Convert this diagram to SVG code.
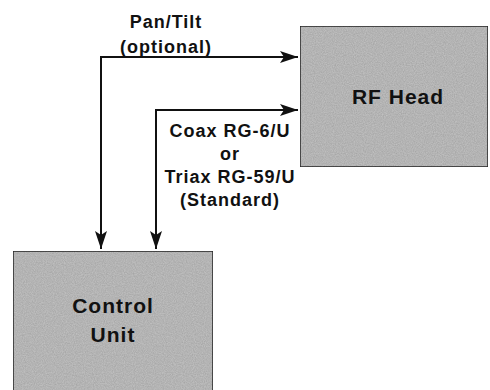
<svg xmlns="http://www.w3.org/2000/svg" width="490" height="390" viewBox="0 0 490 390">
  <style>
    .box { fill: #c4c4c4; stroke: #2a2a2a; stroke-width: 1.5; }
    .lbl { font-family: "Liberation Sans", Arial, sans-serif; font-weight: bold; fill: #111; text-anchor: middle; }
    .small { font-size: 18px; letter-spacing: 1px; }
    .big { font-size: 21px; letter-spacing: 1px; }
    .wire { fill: none; stroke: #111; stroke-width: 2; }
  </style>
  <defs>
    <filter id="grain" x="0" y="0" width="100%" height="100%">
      <feTurbulence type="fractalNoise" baseFrequency="0.9" numOctaves="2" seed="3" result="n"/>
      <feColorMatrix in="n" type="matrix" values="0 0 0 0 0  0 0 0 0 0  0 0 0 0 0  0 0 0 0.35 0" result="dark"/>
      <feComposite in="dark" in2="SourceGraphic" operator="in" result="d2"/>
      <feMerge><feMergeNode in="SourceGraphic"/><feMergeNode in="d2"/></feMerge>
    </filter>
    <marker id="arr" viewBox="0 0 18 12" refX="18" refY="6" markerWidth="18" markerHeight="12" markerUnits="userSpaceOnUse" orient="auto-start-reverse">
      <path d="M0,0 L18,6 L0,12 L4,6 Z" fill="#111"/>
    </marker>
  </defs>
  <g id="rf-head">
    <rect class="box" x="300" y="26" width="188" height="141" filter="url(#grain)"/>
    <text class="lbl big" x="398" y="104">RF Head</text>
  </g>
  <g id="control-unit">
    <rect class="box" x="13" y="251" width="200" height="145" filter="url(#grain)"/>
    <text class="lbl big" x="113" y="313">Control</text>
    <text class="lbl big" x="113" y="342">Unit</text>
  </g>
  <g id="connectors">
    <path class="wire" d="M298,57 L101,57 L101,249" marker-start="url(#arr)" marker-end="url(#arr)"/>
    <path class="wire" d="M298,110 L156,110 L156,249" marker-start="url(#arr)" marker-end="url(#arr)"/>
    <text class="lbl small" x="166" y="28">Pan/Tilt</text>
    <text class="lbl small" x="166" y="53">(optional)</text>
    <text class="lbl small" x="230" y="137">Coax RG-6/U</text>
    <text class="lbl small" x="230" y="160">or</text>
    <text class="lbl small" x="230" y="183">Triax RG-59/U</text>
    <text class="lbl small" x="230" y="206">(Standard)</text>
  </g>
</svg>
